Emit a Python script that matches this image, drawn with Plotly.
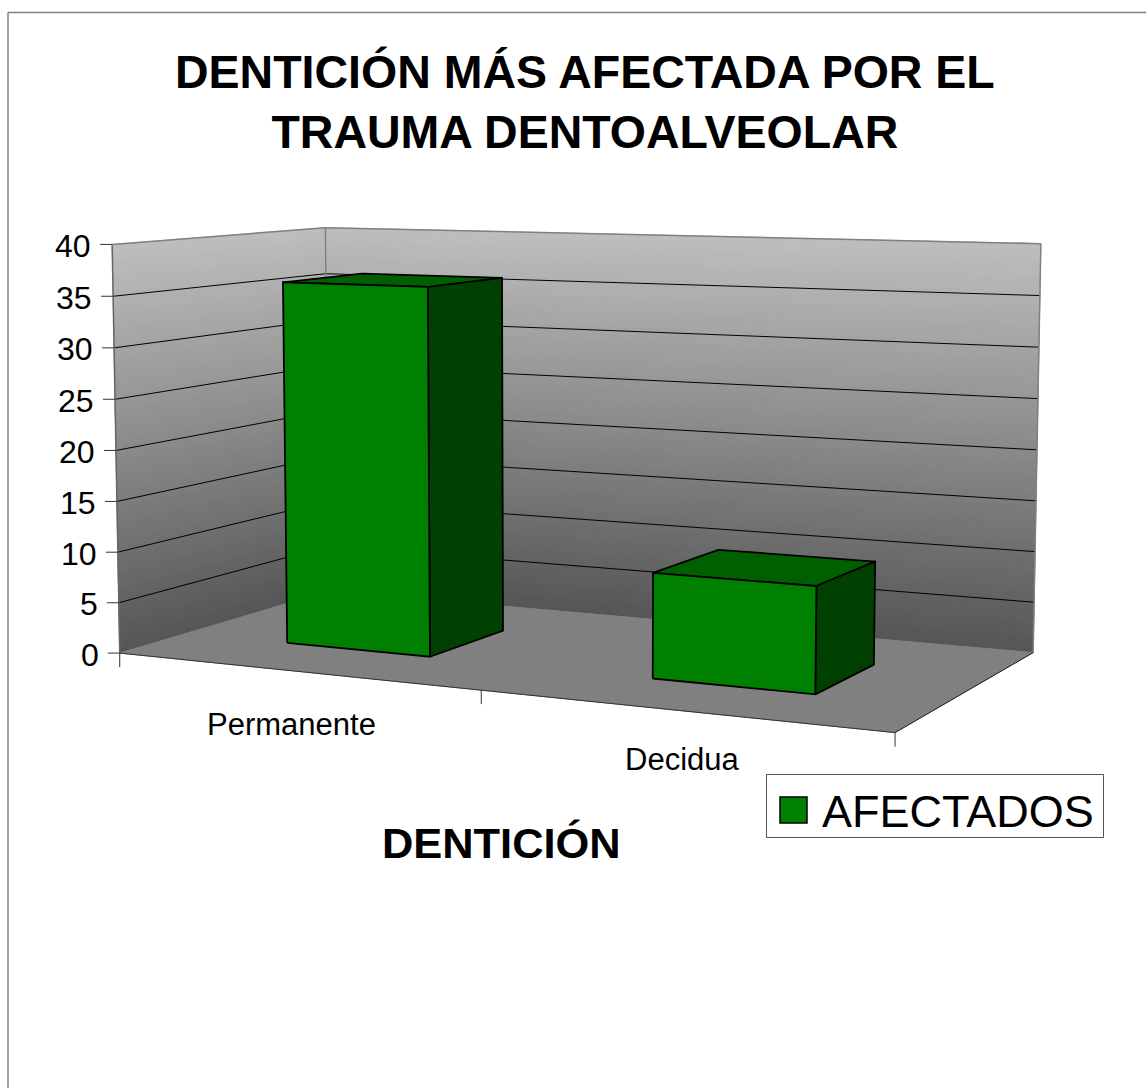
import numpy as np
import plotly.graph_objects as go

# ---------- data ----------
categories = ["Permanente", "Decidua"]
values = [36, 10]
series_name = "AFECTADOS"
z_ticks = [0, 5, 10, 15, 20, 25, 30, 35, 40]
title_text = "<b>DENTICIÓN MÁS AFECTADA POR EL</b><br><b>TRAUMA DENTOALVEOLAR</b>"
x_title = "DENTICIÓN"

# ---------- 3D box look ----------
Z_MAX = 40
STRIPS_PER_UNIT = 2
BAR_HALF = 0.203
BAR_DEPTH = (0.297, 0.684)
LABEL_NUDGE = [(-4, 2), (1, -6)]

# projective camera: (category pos, depth 0-1, value/Z_MAX) -> page pixels
CAMERA = np.array([
    [331.104, 250.655, -9.42903, 119.739],
    [-6.53705, 12.2159, -412.701, 653.094],
    [-0.0631816, 0.125839, -0.0164706, 1.0],
])

WIDTH, HEIGHT = 1146, 1088
FONT = "Liberation Sans"
GREEN_FRONT = "#008000"
GREEN_SIDE = "#004000"
GREEN_TOP = "#006000"
WALL_TOP = (190, 190, 190)
WALL_BOTTOM = (85, 85, 85)
FLOOR = "#808080"
EDGE = "#808080"


def project(x, y, z):
    h = CAMERA @ np.array([x, y, z / Z_MAX, 1.0])
    return float(h[0] / h[2]), float(h[1] / h[2])


def polygon(fig, corners, color, line_color=None, width=0):
    pts = [project(*c) for c in corners]
    pts.append(pts[0])
    fig.add_trace(go.Scatter(
        x=[p[0] for p in pts], y=[p[1] for p in pts],
        mode="lines", fill="toself", fillcolor=color,
        line=dict(color=line_color or color, width=width if line_color else 1),
        hoverinfo="skip", showlegend=False,
    ))


def pixel_line(fig, p0, p1, color, width):
    fig.add_trace(go.Scatter(
        x=[p0[0], p1[0]], y=[p0[1], p1[1]], mode="lines",
        line=dict(color=color, width=width),
        hoverinfo="skip", showlegend=False,
    ))


def segment(fig, a, b, color, width):
    pixel_line(fig, project(*a), project(*b), color, width)


fig = go.Figure()

# ---------- walls, thin strips for the gradient ----------
for k in range(Z_MAX * STRIPS_PER_UNIT):
    z0, z1 = k / STRIPS_PER_UNIT, (k + 1) / STRIPS_PER_UNIT
    t = (z0 + z1) / 2 / Z_MAX
    rgb = [round(b + (a - b) * t) for a, b in zip(WALL_TOP, WALL_BOTTOM)]
    shade = f"rgb({rgb[0]},{rgb[1]},{rgb[2]})"
    polygon(fig, [(0, 0, z0), (0, 1, z0), (0, 1, z1), (0, 0, z1)], shade)
    polygon(fig, [(0, 1, z0), (2, 1, z0), (2, 1, z1), (0, 1, z1)], shade)

# ---------- grid lines ----------
for z in z_ticks[1:-1]:
    segment(fig, (0, 0, z), (0, 1, z), "#000000", 1)
    segment(fig, (0, 1, z), (2, 1, z), "#000000", 1)

# ---------- wall edges ----------
segment(fig, (0, 0, 0), (0, 0, Z_MAX), "#666666", 1.5)
segment(fig, (0, 0, Z_MAX), (0, 1, Z_MAX), EDGE, 1.5)
segment(fig, (0, 1, 0), (0, 1, Z_MAX), EDGE, 1.5)
segment(fig, (0, 1, Z_MAX), (2, 1, Z_MAX), EDGE, 1.5)
segment(fig, (2, 1, 0), (2, 1, Z_MAX), EDGE, 1.5)

# ---------- floor ----------
polygon(fig, [(0, 0, 0), (2, 0, 0), (2, 1, 0), (0, 1, 0)], FLOOR)
segment(fig, (0, 0, 0), (2, 0, 0), "#333333", 1)
segment(fig, (2, 0, 0), (2, 1, 0), "#222222", 1)

# ---------- bars ----------
y0, y1 = BAR_DEPTH
for i, val in enumerate(values):
    x0, x1 = i + 0.5 - BAR_HALF, i + 0.5 + BAR_HALF
    polygon(fig, [(x0, y0, val), (x1, y0, val), (x1, y1, val), (x0, y1, val)], GREEN_TOP, "#000000", 1.8)
    polygon(fig, [(x1, y0, 0), (x1, y1, 0), (x1, y1, val), (x1, y0, val)], GREEN_SIDE, "#000000", 1.8)
    polygon(fig, [(x0, y0, 0), (x1, y0, 0), (x1, y0, val), (x0, y0, val)], GREEN_FRONT, "#000000", 1.8)

annotations = []

# ---------- value axis ticks and labels ----------
for z in z_ticks:
    px, py = project(0, 0, z)
    pixel_line(fig, (px - 12, py), (px, py), "#333333", 1)
    annotations.append(dict(
        x=px - 19, y=py + 1.5, xref="x", yref="y", text=str(z), showarrow=False,
        xanchor="right", yanchor="middle", font=dict(family=FONT, size=32, color="#000000"),
    ))

# ---------- category axis ticks and labels ----------
for pos in range(len(categories) + 1):
    px, py = project(pos, 0, 0)
    pixel_line(fig, (px, py), (px, py + 14), "#333333", 1)
for i, cat in enumerate(categories):
    px, py = project(i + 0.5, 0, -5)
    annotations.append(dict(
        x=px + LABEL_NUDGE[i][0], y=py + LABEL_NUDGE[i][1], xref="x", yref="y", text=cat, showarrow=False,
        xanchor="center", yanchor="middle", font=dict(family=FONT, size=31, color="#000000"),
    ))

# ---------- titles ----------
annotations.append(dict(
    x=585, y=102, xref="x", yref="y", text=title_text, showarrow=False,
    xanchor="center", yanchor="middle", font=dict(family=FONT, size=46.5, color="#000000"),
))
annotations.append(dict(
    x=501.5, y=843, xref="x", yref="y", text=f"<b>{x_title}</b>", showarrow=False,
    xanchor="center", yanchor="middle", font=dict(family=FONT, size=43.4, color="#000000"),
))

# ---------- legend box ----------
annotations.append(dict(
    x=820, y=811, xref="x", yref="y", text=series_name, showarrow=False,
    xanchor="left", yanchor="middle", font=dict(family=FONT, size=45, color="#000000"),
))
shapes = [
    dict(type="rect", xref="x", yref="y", x0=766.5, y0=774.5, x1=1103.5, y1=837.5,
         line=dict(color="#555555", width=1), fillcolor="#ffffff", layer="below"),
    dict(type="rect", xref="x", yref="y", x0=780, y0=797, x1=807, y1=823,
         line=dict(color="#000000", width=1.5), fillcolor=GREEN_FRONT),
    # chart frame, open to the right and bottom
    dict(type="line", xref="x", yref="y", x0=8, y0=12.5, x1=WIDTH, y1=12.5,
         line=dict(color="#808080", width=1.5)),
    dict(type="line", xref="x", yref="y", x0=8, y0=12.5, x1=8, y1=HEIGHT,
         line=dict(color="#808080", width=1.5)),
]

fig.update_layout(
    width=WIDTH,
    height=HEIGHT,
    margin=dict(l=0, r=0, t=0, b=0),
    paper_bgcolor="#ffffff",
    plot_bgcolor="#ffffff",
    showlegend=False,
    annotations=annotations,
    shapes=shapes,
    xaxis=dict(range=[0, WIDTH], visible=False, fixedrange=True),
    yaxis=dict(range=[HEIGHT, 0], visible=False, fixedrange=True),
)

# the page's default body margin would push the chart 8px down and right
fig.write_html(
    "out.html",
    config={"displayModeBar": False},
    post_script="document.body.style.margin='0';document.documentElement.style.overflow='hidden';",
)
